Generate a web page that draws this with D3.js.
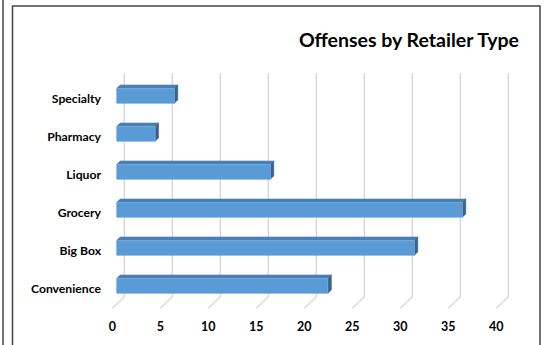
<!DOCTYPE html>
<html><head><meta charset="utf-8">
<script src="https://cdn.jsdelivr.net/npm/d3@7/dist/d3.min.js"></script>
<style>html,body{margin:0;padding:0;background:#fff;}svg{display:block;}</style>
</head><body>
<svg id="c" width="548" height="345"></svg>
<script>
const title = "Offenses by Retailer Type";
const categories = ["Specialty", "Pharmacy", "Liquor", "Grocery", "Big Box", "Convenience"];
const values = [6, 4, 16, 36, 31, 22];
const ticks = [0, 5, 10, 15, 20, 25, 30, 35, 40];

const svg = d3.select("#c");
const font = "Lato, 'Open Sans', sans-serif";

// outer frame lines
svg.append("line").attr("x1", 3).attr("x2", 3).attr("y1", 0).attr("y2", 345)
  .attr("stroke", "#444").attr("stroke-width", 1.5);
svg.append("rect").attr("x", 12.5).attr("y", 6).attr("width", 527.5).attr("height", 360)
  .attr("fill", "#fff").attr("stroke", "#444").attr("stroke-width", 1.5);

// 3D geometry
const depthDX = -12, depthDY = 11;       // back wall -> front floor
const wallTop = 73, wallBottom = 297;
const x = d3.scaleLinear().domain([0, 40]).range([124.3, 508.3]); // back wall scale
const y = d3.scalePoint().domain(categories).range([95.8, 285.8]);
const barFrontShift = -7.6;   // bar front face offset from back wall
const barH = 15;
const barDX = 3.5, barDY = -3.4;

// gridlines
const g = svg.append("g");
ticks.forEach(t => {
  g.append("line").attr("x1", x(t)).attr("x2", x(t)).attr("y1", wallTop).attr("y2", wallBottom)
    .attr("stroke", "#d9d9d9").attr("stroke-width", 1.5);
  g.append("line").attr("x1", x(t)).attr("x2", x(t) + depthDX).attr("y1", wallBottom).attr("y2", wallBottom + depthDY)
    .attr("stroke", "#d9d9d9").attr("stroke-width", 1.5);
  g.append("text").attr("x", x(t) + depthDX).attr("y", 331)
    .attr("text-anchor", "middle").attr("font-family", font).attr("font-weight", "bold")
    .attr("font-size", 12.5).attr("fill", "#000").text(t);
});

// bars
const bars = svg.append("g");
categories.forEach((c, i) => {
  const x0 = x(0) + barFrontShift, x1 = x(values[i]) + barFrontShift;
  const yt = y(c) - barH / 2, yb = y(c) + barH / 2;
  // top face
  bars.append("path").attr("d", `M${x0},${yt}L${x0 + barDX},${yt + barDY}L${x1 + barDX},${yt + barDY}L${x1},${yt}Z`)
    .attr("fill", "#4a7fb3").attr("stroke", "#4a7fb3").attr("stroke-width", 0.5);
  // side face
  bars.append("path").attr("d", `M${x1},${yt}L${x1 + barDX},${yt + barDY}L${x1 + barDX},${yb + barDY}L${x1},${yb}Z`)
    .attr("fill", "#36628c").attr("stroke", "#36628c").attr("stroke-width", 0.5);
  // front face
  bars.append("rect").attr("x", x0).attr("y", yt).attr("width", x1 - x0).attr("height", barH)
    .attr("fill", "#5b9bd5").attr("stroke", "#7aaee0").attr("stroke-width", 0.6);
  // category label
  svg.append("text").attr("x", 101).attr("y", y(c) + 3).attr("dy", "0.35em")
    .attr("text-anchor", "end").attr("font-family", font).attr("font-weight", "bold")
    .attr("font-size", 12.2).attr("fill", "#000").text(c);
});

// title
svg.append("text").attr("x", 519).attr("y", 47).attr("text-anchor", "end")
  .attr("font-family", font).attr("font-weight", "bold").attr("font-size", 19.5)
  .attr("fill", "#000").text(title);
</script>
</body></html>
